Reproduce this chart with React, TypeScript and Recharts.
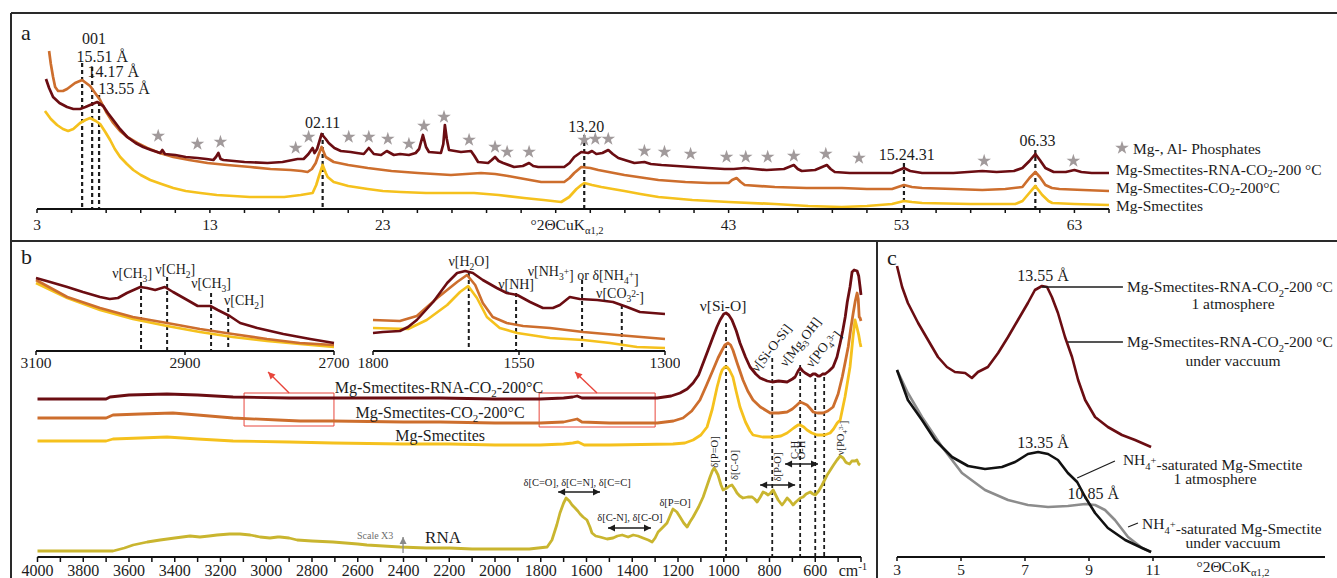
import React from 'react';
import {
  ComposedChart, Line, Scatter, XAxis, YAxis,
  ReferenceLine, ReferenceDot, ReferenceArea, Symbols,
} from 'recharts';

const SERIF = '"Liberation Serif", "Times New Roman", Times, serif';
const INK = '#1c1c1c';
const COL_RNA_CO2 = '#6b0d12';
const COL_CO2 = '#cd6e2d';
const COL_SMEC = '#f5c11d';
const COL_RNA = '#c9b52f';
const COL_STAR = '#a19a9b';
const COL_GRAY = '#8c8c8c';
const COL_BLACK = '#111111';
const COL_RED = '#e8463c';

type P = [number, number];
const pts = (a: P[]) => a.map(([x, y]) => ({ x, y }));

// ---------- Panel a : XRD (°2θ CuKα, intensity a.u.) ----------
const xrdA_RnaCo2: P[] = [
  [3.52,130],[3.7,121],[3.93,112],[4.3,106],[4.74,102],[5.1,100],[5.49,100],[5.8,102],[6.07,104],[6.48,107],[6.83,103],[7.1,96],[7.41,89],[7.8,80],[8.22,72],[8.7,66],[9.14,62],[9.6,59],[10.13,56],[10.25,59],[10.4,55],[11.0,54],[11.6,52],[12.28,51],[12.8,50],[13.2,49],[13.35,52],[13.49,56],[13.62,50],[13.78,49],[15.0,47],[16.33,46],[17.2,47],[18.07,50],[18.42,50],[18.7,55],[18.94,61],[19.05,56],[19.2,60],[19.46,75],[19.7,70],[19.87,66],[20.2,61],[20.57,58],[21.14,57],[21.5,56],[21.9,55],[22.19,61],[22.48,55],[22.9,54],[23.23,58],[23.64,54],[24.0,55],[24.51,54],[24.9,56],[25.1,60],[25.32,74],[25.5,62],[25.67,57],[26.36,56],[26.5,65],[26.59,84],[26.7,70],[26.83,59],[27.52,57],[28.1,58],[28.3,53],[28.51,47],[29.09,46],[29.3,49],[29.49,52],[29.7,48],[29.96,46],[30.59,42],[31.1,43],[31.46,46],[31.7,43],[31.99,42],[33.0,42],[33.49,42],[33.8,46],[34.07,52],[34.48,57],[34.88,56],[35.1,58],[35.35,55],[35.7,56],[36.04,59],[36.3,55],[36.62,51],[37.55,46],[38.13,47],[38.5,45],[39.12,44],[40.0,43],[40.86,42],[41.8,41],[42.77,40],[43.3,40],[43.93,41],[44.5,40],[45.2,39],[46.2,40],[46.77,44],[47.0,40],[47.23,38],[48.0,39],[48.68,44],[48.9,40],[49.14,37],[50.0,36],[50.54,36],[51.5,36],[52.45,36],[53.14,41],[53.5,38],[54.19,36],[56.0,36],[57.67,38],[58.5,37],[59.5,38],[59.99,41],[60.4,48],[60.74,55],[61.0,49],[61.32,41],[61.8,37],[62.5,37],[63.0,39],[63.4,37],[64.0,36],[65.0,36],
];
const xrdA_Co2: P[] = [
  [3.7,158],[3.8,145],[3.93,132],[4.05,122],[4.22,118],[4.5,118],[4.74,120],[5.2,126],[5.61,129],[6.07,123],[6.65,109],[7.0,97],[7.41,86],[7.8,78],[8.22,72],[8.8,66],[9.38,61],[10.1,56],[10.88,52],[11.8,49],[12.86,46],[14.0,44],[15.35,42],[16.5,40],[17.67,39],[18.3,38],[18.65,37],[18.9,40],[19.12,46],[19.3,55],[19.46,62],[19.7,52],[20.16,47],[21.0,44],[22.13,41],[23.5,38],[25.03,36],[26.94,34],[28.68,36],[29.5,35],[30.25,33],[31.2,30],[32.16,27],[33.49,27],[33.8,31],[34.07,36],[34.48,42],[35.0,41],[35.46,39],[36.97,34],[38.94,29],[40.5,27],[41.84,26],[43.0,26],[43.2,29],[43.46,31],[43.7,27],[43.93,24],[45.67,22],[47.5,21],[49.55,21],[51.0,20],[52.45,20],[53.14,24],[53.6,22],[54.19,21],[56.0,20],[57.67,19],[59.0,20],[59.99,22],[60.4,31],[60.74,37],[61.0,32],[61.32,24],[61.7,21],[62.13,20],[63.5,19],[65.0,18],
];
const xrdA_Smec: P[] = [
  [3.46,98],[3.8,90],[4.16,84],[4.5,80],[4.8,78],[5.1,80],[5.49,86],[5.8,89],[6.07,91],[6.4,88],[6.65,85],[6.95,77],[7.23,69],[7.5,60],[7.81,52],[8.2,45],[8.57,39],[9.0,34],[9.55,29],[10.2,25],[10.88,21],[11.6,18],[12.45,16],[13.4,14],[14.36,13],[15.3,12],[16.33,12],[17.3,12],[18.25,14],[18.94,16],[19.15,24],[19.29,32],[19.52,44],[19.7,36],[19.81,32],[20.16,27],[21.0,23],[22.13,20],[23.0,18],[24.04,17],[25.5,16],[26.94,16],[28.28,16],[29.7,14],[31.17,11],[32.3,9],[33.32,7],[33.78,12],[34.2,20],[34.48,24],[34.65,26],[35.1,24],[35.64,22],[36.3,20],[36.97,18],[37.9,15],[38.94,12],[40.9,9],[43.0,7],[45.67,5],[47.6,3],[49.55,2],[51.0,3],[52.45,5],[53.14,8],[53.6,7],[54.19,6],[57.0,5],[59.58,5],[60.0,8],[60.39,16],[60.74,23],[61.14,14],[61.5,8],[61.72,6],[63.0,5],[65.0,4],
];
const xrdA_Stars: P[] = [
  [10.01,73],[12.28,65],[13.61,67],[17.96,61],[18.71,72],[21.03,72],[22.19,72],[23.29,70],[24.51,65],[25.38,83],[26.54,92],[27.99,69],[29.49,62],[30.19,57],[31.46,57],[34.65,69],[35.29,70],[36.04,70],[38.13,58],[39.29,57],[40.8,55],[42.88,52],[43.99,52],[45.26,52],[46.77,53],[48.62,55],[50.54,51],[57.78,48],[62.94,48],
];
const xrdTicksA = [3,5,7,9,11,13,15,17,19,21,23,25,27,29,31,33,35,37,39,41,43,45,47,49,51,53,55,57,59,61,63,65];
const xrdLabelsA = [3,13,23,43,53,63];
const dashA: P[] = [[5.61,146],[6.19,142],[6.59,114],[19.52,76],[34.65,74],[53.14,46],[60.74,59]];

// ---------- Panel b : FTIR (cm-1, absorbance a.u.) ----------
const ftirRnaCo2: P[] = [
  [4000,158],[3700,158],[3683,160],[3600,162],[3434,163],[3300,162],[3145,160],[2900,159],[2708,159],[2400,159],[2240,159],[2000,158],[1803,158],[1700,159],[1660,160],[1641,161],[1620,159],[1584,159],[1450,159],[1291,159],[1230,161],[1191,164],[1160,168],[1134,174],[1110,182],[1090,194],[1070,206],[1047,220],[1030,230],[1016,237],[1000,243],[990,244],[978,242],[964,237],[945,226],[929,214],[905,200],[885,190],[860,183],[841,179],[810,176],[788,175],[760,176],[723,175],[700,178],[688,180],[675,186],[666,189],[655,186],[644,184],[622,181],[610,183],[600,183],[588,181],[579,181],[568,183],[557,183],[540,186],[522,190],[505,200],[491,214],[480,226],[469,240],[460,255],[448,270],[439,285],[430,287],[417,286],[410,281],[404,270],[400,262],
];
const ftirCo2: P[] = [
  [4000,139],[3700,139],[3670,142],[3550,143],[3408,144],[3300,142],[3145,139],[2950,137],[2852,136],[2708,136],[2400,135],[2240,135],[2000,134],[1803,134],[1700,135],[1660,137],[1641,138],[1620,135],[1500,134],[1291,134],[1220,136],[1178,139],[1140,146],[1104,157],[1075,172],[1047,187],[1025,199],[1007,207],[995,212],[981,214],[970,212],[960,207],[940,193],[916,177],[895,166],[872,157],[840,150],[797,144],[760,144],[723,145],[700,148],[680,152],[666,155],[655,154],[636,152],[620,148],[609,145],[590,144],[566,144],[545,146],[522,150],[500,163],[482,180],[468,196],[456,210],[445,228],[434,244],[425,256],[417,264],[412,258],[408,240],[404,239],[400,236],
];
const ftirSmec: P[] = [
  [4000,116],[3700,116],[3670,118],[3550,119],[3434,120],[3300,118],[3145,116],[2900,115],[2708,114],[2400,113],[2197,113],[2000,112],[1803,112],[1700,113],[1660,114],[1637,115],[1610,112],[1500,112],[1222,113],[1170,114],[1134,117],[1100,122],[1073,130],[1050,148],[1029,170],[1015,182],[1007,187],[995,190],[986,190],[975,187],[960,180],[945,165],[929,150],[905,135],[885,126],[872,122],[830,120],[784,120],[750,121],[723,124],[700,128],[688,130],[675,132],[666,132],[650,130],[636,127],[615,124],[592,122],[560,122],[535,124],[520,128],[504,134],[491,137],[470,160],[448,190],[435,220],[426,237],[418,230],[410,222],[404,214],[400,210],
];
const ftirRna: P[] = [
  [4000,6],[3800,6],[3670,6],[3620,9],[3582,12],[3520,15],[3464,17],[3400,19],[3333,21],[3290,20],[3250,21],[3215,22],[3160,23],[3115,23],[3070,22],[3027,20],[2984,19],[2950,20],[2940,20],[2900,19],[2865,17],[2800,16],[2708,15],[2600,13],[2560,12],[2415,10],[2300,9],[2197,9],[2100,8],[1947,8],[1850,8],[1772,10],[1751,17],[1730,32],[1716,44],[1700,54],[1689,59],[1675,56],[1663,52],[1650,49],[1638,46],[1628,43],[1615,40],[1598,37],[1585,30],[1576,24],[1560,21],[1541,20],[1510,18],[1484,19],[1465,21],[1444,22],[1418,20],[1396,22],[1375,21],[1353,19],[1330,17],[1313,15],[1300,19],[1287,25],[1265,30],[1248,34],[1235,41],[1222,48],[1205,45],[1191,40],[1175,34],[1160,30],[1148,35],[1134,40],[1110,50],[1090,60],[1075,70],[1060,80],[1050,86],[1042,89],[1034,86],[1025,82],[1012,72],[1003,67],[995,68],[986,69],[975,71],[964,72],[952,68],[942,64],[930,61],[916,59],[895,60],[876,60],[865,58],[854,55],[840,60],[828,65],[818,64],[806,62],[795,64],[784,67],[773,62],[762,57],[752,54],[745,52],[735,55],[723,59],[710,56],[697,52],[685,55],[675,57],[665,59],[653,60],[640,63],[622,65],[610,63],[600,62],[585,66],[570,72],[548,82],[520,92],[505,97],[491,101],[478,99],[467,95],[461,94],[450,93],[440,96],[426,96],[418,97],[410,93],[404,92],
];
const ftirTicks = [4000,3900,3800,3700,3600,3500,3400,3300,3200,3100,3000,2900,2800,2700,2600,2500,2400,2300,2200,2100,2000,1900,1800,1700,1600,1500,1400,1300,1200,1100,1000,900,800,700,600,500,400];
const ftirLabels = [4000,3800,3600,3400,3200,3000,2800,2600,2400,2200,2000,1800,1600,1400,1200,1000,800,600];
const dashB: P[] = [[990,234],[788,199],[666,192],[600,179],[561,180]];

// inset 1 : 3100-2700 cm-1
const chRnaCo2: P[] = [
  [3100,73],[3081,69],[3058,64],[3037,59],[3014,54],[3001,52],[2990,53],[2978,58],[2960,64],[2951,63],[2940,61],[2927,64],[2916,59],[2897,51],[2883,45],[2866,45],[2856,41],[2840,35],[2826,28],[2803,23],[2768,17],[2732,12],[2700,8],
];
const chCo2: P[] = [[3100,71],[3058,54],[3014,43],[2970,34],[2924,28],[2880,22],[2836,17],[2790,12],[2746,8],[2700,6]];
const chSmec: P[] = [[3100,68],[3058,53],[3014,41],[2970,32],[2924,25],[2880,19],[2836,14],[2790,10],[2746,7],[2700,4]];
const inset1Ticks = [3100, 2900, 2700];
const dashI1: P[] = [[2959,69],[2924,74],[2865,58],[2842,43]];

// inset 2 : 1800-1300 cm-1
const watRnaCo2: P[] = [
  [1800,18],[1783,19],[1754,20],[1740,24],[1725,31],[1697,49],[1673,68],[1656,78],[1642,80],[1629,78],[1612,71],[1588,63],[1571,58],[1553,56],[1531,49],[1509,43],[1492,43],[1480,46],[1463,54],[1446,52],[1416,51],[1389,49],[1365,44],[1343,39],[1300,37],
];
const watCo2: P[] = [[1800,31],[1754,30],[1725,35],[1690,53],[1656,69],[1639,76],[1625,66],[1612,48],[1595,34],[1571,28],[1543,25],[1497,23],[1440,19],[1382,16],[1300,12]];
const watSmec: P[] = [[1800,23],[1740,22],[1708,31],[1673,46],[1651,59],[1637,65],[1622,53],[1605,34],[1583,23],[1553,18],[1497,13],[1440,11],[1394,8],[1348,4],[1300,3]];
const inset2Ticks = [1800, 1550, 1300];
const dashI2: P[] = [[1636,78],[1555,58],[1442,71],[1374,46]];

// ---------- Panel c : XRD (°2θ CoKα) ----------
const xrdC_RnaCo2: P[] = [
  [3.0,291],[3.16,270],[3.34,254],[3.66,234],[3.97,217],[4.28,200],[4.56,190],[4.81,185],[5.13,184],[5.34,179],[5.53,185],[5.84,190],[6.16,204],[6.47,220],[6.78,237],[7.09,254],[7.31,267],[7.53,271],[7.69,270],[7.84,260],[8.03,244],[8.25,220],[8.47,200],[8.66,177],[8.88,157],[9.19,140],[9.59,130],[10.03,122],[10.44,117],[10.94,110],
];
const xrdC_NH4Atm: P[] = [
  [3.0,187],[3.34,157],[3.78,137],[4.19,117],[4.72,100],[5.22,91],[5.75,88],[6.28,90],[6.69,95],[7.09,103],[7.41,105],[7.72,103],[8.03,97],[8.34,84],[8.63,75],[8.88,60],[9.19,44],[9.59,29],[10.13,17],[10.66,9],[10.94,5],
];
const xrdC_NH4Vac: P[] = [
  [3.0,187],[3.34,164],[3.78,140],[4.41,110],[5.03,84],[5.75,67],[6.47,57],[7.09,52],[7.72,50],[8.34,51],[8.88,53],[9.19,52],[9.5,47],[9.81,37],[10.22,20],[10.66,9],[10.94,5],
];
const xrdTicksC = [3, 5, 7, 9, 11];

// ---------- helpers ----------
type TxtOpt = { size?: number; anchor?: 'start' | 'middle' | 'end'; rotate?: number; color?: string };
const txtShape = (content: React.ReactNode, o: TxtOpt = {}) => (p: any) => (
  <text
    x={p.cx} y={p.cy} dy="0.35em"
    textAnchor={o.anchor ?? 'middle'}
    fontSize={o.size ?? 15.5} fontFamily={SERIF} fill={o.color ?? INK}
    transform={o.rotate ? `rotate(${o.rotate} ${p.cx} ${p.cy})` : undefined}
  >{content}</text>
);
const Lbl = (key: string, x: number, y: number, content: React.ReactNode, o: TxtOpt = {}) => (
  <ReferenceDot key={key} x={x} y={y} r={0} ifOverflow="visible" shape={txtShape(content, o)} />
);
const sb = (s: string, rest: string, fs: number, k = 0.28) => (
  <><tspan dy={fs * k} fontSize={fs * 0.68}>{s}</tspan><tspan dy={-fs * k}>{rest}</tspan></>
);
const sp = (s: string, rest: string, fs: number) => (
  <><tspan dy={-fs * 0.38} fontSize={fs * 0.68}>{s}</tspan><tspan dy={fs * 0.38}>{rest}</tspan></>
);
const vDash = (key: string, x: number, top: number, w = 2.2) => (
  <ReferenceLine key={key} segment={[{ x, y: top }, { x, y: 0 }]} stroke={INK} strokeWidth={w} strokeDasharray="4 3" ifOverflow="visible" />
);
const head = (x: number, y: number, ang: number, L: number, W: number) => {
  const bx = x - L * Math.cos(ang), by = y - L * Math.sin(ang);
  const nx = -Math.sin(ang) * W, ny = Math.cos(ang) * W;
  return `${x},${y} ${bx + nx},${by + ny} ${bx - nx},${by - ny}`;
};
const arrowShape = (color: string, both: boolean, sw: number, L = 7, W = 3.5) => (p: any) => {
  const { x1, y1, x2, y2 } = p;
  const a = Math.atan2(y2 - y1, x2 - x1);
  return (
    <g>
      <line x1={x1} y1={y1} x2={x2} y2={y2} stroke={color} strokeWidth={sw} />
      <polygon points={head(x2, y2, a, L, W)} fill={color} />
      {both && <polygon points={head(x1, y1, a + Math.PI, L, W)} fill={color} />}
    </g>
  );
};
const Arrow = (key: string, a: P, b: P, color: string, both: boolean, sw = 1.6) => (
  <ReferenceLine key={key} segment={[{ x: a[0], y: a[1] }, { x: b[0], y: b[1] }]} ifOverflow="visible" shape={arrowShape(color, both, sw)} />
);
const Conn = (key: string, a: P, b: P) => (
  <ReferenceLine key={key} segment={[{ x: a[0], y: a[1] }, { x: b[0], y: b[1] }]} stroke={INK} strokeWidth={1.3} ifOverflow="visible" />
);
const makeTick = (labels: number[], fs: number, special?: (v: number, x: number, y: number) => React.ReactNode) => (p: any) => {
  const v = p.payload.value;
  if (special) {
    const s = special(v, p.x, p.y);
    if (s) return <g>{s}</g>;
  }
  if (!labels.includes(v)) return <g />;
  return <text x={p.x} y={p.y} dy="0.71em" textAnchor="middle" fontSize={fs} fontFamily={SERIF} fill={INK}>{v}</text>;
};
const axisLine = { stroke: '#111', strokeWidth: 2 };
const tickLine = { stroke: '#111', strokeWidth: 1.5 };
const starShape = (p: any) => <Symbols cx={p.cx} cy={p.cy} type="star" size={58} fill={COL_STAR} />;
const line = (key: string, data: P[], color: string, w = 2.7) => (
  <Line key={key} data={pts(data)} dataKey="y" type="linear" stroke={color} strokeWidth={w} dot={false} activeDot={false} isAnimationActive={false} strokeLinejoin="round" />
);

// ---------- panels ----------
function PanelA() {
  return (
    <ComposedChart width={1337} height={241} margin={{ top: 13, right: 228, bottom: 0, left: 37 }}>
      <XAxis type="number" dataKey="x" domain={[3, 65]} ticks={xrdTicksA} interval={0} height={32}
        axisLine={axisLine} tickLine={tickLine} tickSize={4} tickMargin={6} tick={makeTick(xrdLabelsA, 15.5)} />
      <YAxis hide type="number" dataKey="y" domain={[0, 196]} />
      {dashA.map(([x, t], i) => vDash('da' + i, x, t))}
      {line('a1', xrdA_Smec, COL_SMEC)}
      {line('a2', xrdA_Co2, COL_CO2)}
      {line('a3', xrdA_RnaCo2, COL_RNA_CO2)}
      <Scatter data={pts(xrdA_Stars)} dataKey="y" shape={starShape} isAnimationActive={false} />
      {Lbl('l001', 6.3, 171, '001', { size: 16 })}
      {Lbl('l1551', 6.77, 153, '15.51 Å', { size: 16 })}
      {Lbl('l1417', 7.41, 138, '14.17 Å', { size: 16 })}
      {Lbl('l1355', 8.04, 121, '13.55 Å', { size: 16 })}
      {Lbl('l0211', 19.52, 87, '02.11', { size: 16 })}
      {Lbl('l1320', 34.77, 83, '13.20', { size: 16 })}
      {Lbl('l152431', 53.3, 55, '15.24.31', { size: 16 })}
      {Lbl('l0633', 60.86, 69, '06.33', { size: 16 })}
    </ComposedChart>
  );
}

function PanelBMain() {
  const tick = makeTick(ftirLabels, 16, (v, x, y) => v === 400 ? (
    <text x={x - 8} y={y} dy="0.71em" textAnchor="middle" fontSize={16} fontFamily={SERIF} fill={INK}>cm{sp('-1', '', 16)}</text>
  ) : null);
  const f = 10.5;
  const L = 16;
  return (
    <ComposedChart width={877} height={337} margin={{ top: 0, right: 16, bottom: 0, left: 37.5 }}>
      <XAxis type="number" dataKey="x" domain={[400, 4000]} reversed ticks={ftirTicks} interval={0} height={21}
        axisLine={axisLine} tickLine={tickLine} tickSize={5} tickMargin={3} tick={tick} />
      <YAxis hide type="number" dataKey="y" domain={[0, 316]} />
      {dashB.map(([x, t], i) => vDash('db' + i, x, t, 1.8))}
      {line('b4', ftirRna, COL_RNA, 2.8)}
      {line('b3', ftirSmec, COL_SMEC, 2.8)}
      {line('b2', ftirCo2, COL_CO2, 2.8)}
      {line('b1', ftirRnaCo2, COL_RNA_CO2, 2.8)}
      <ReferenceArea x1={3097} x2={2704} y1={131} y2={164} fill="none" stroke={COL_RED} strokeWidth={1} ifOverflow="visible" />
      <ReferenceArea x1={1807} x2={1300} y1={130} y2={164} fill="none" stroke={COL_RED} strokeWidth={1} ifOverflow="visible" />
      {Arrow('ar1', [2900, 164], [2992, 185], COL_RED, false, 1.4)}
      {Arrow('ar2', [1554, 164], [1650, 185], COL_RED, false, 1.4)}
      {Lbl('t1', 2245, 170, <>Mg-Smectites-RNA-CO{sb('2', '-200°C', L)}</>, { size: L })}
      {Lbl('t2', 2240, 145, <>Mg-Smectites-CO{sb('2', '-200°C', L)}</>, { size: L })}
      {Lbl('t3', 2240, 122, 'Mg-Smectites', { size: L })}
      {Lbl('t4', 2227, 20, 'RNA', { size: 17 })}
      {Lbl('t5', 2524, 22, 'Scale X3', { size: 10, color: '#6e6e6e' })}
      {Arrow('ar3', [2402, 4], [2402, 20], '#8a8a8a', false, 1.3)}
      {Lbl('t6', 1003, 251, <>ν[Si-O]</>, { size: 15.5 })}
      {Lbl('t7', 793, 209, <>ν[Si-O-Si]</>, { size: 13.5, rotate: -52 })}
      {Lbl('t8', 666, 215, <>ν[Mg{sb('3', 'OH]', 13.5)}</>, { size: 13.5, rotate: -52 })}
      {Lbl('t9', 570, 209, <>ν[PO{sb('4', '', 13.5)}{sp('3-', ']', 13.5)}</>, { size: 13.5, rotate: -52 })}
      {Lbl('r1', 1641, 75, 'δ[C=O], δ[C=N], δ[C=C]', { size: f })}
      {Arrow('r1a', [1724, 65], [1541, 65], INK, true, 1.6)}
      {Lbl('r2', 1410, 40, 'δ[C-N], δ[C-O]', { size: f })}
      {Arrow('r2a', [1506, 29], [1318, 29], INK, true, 1.6)}
      {Lbl('r3', 1213, 55, 'δ[P=O]', { size: f })}
      {Lbl('r4', 1042, 105, 'δ[P=O]', { size: f, rotate: -90 })}
      {Lbl('r5', 955, 92, 'δ[C-O]', { size: f, rotate: -90 })}
      {Lbl('r6', 767, 90, 'δ[P-O]', { size: f, rotate: -90 })}
      {Arrow('r6a', [841, 72], [688, 72], INK, true, 1.6)}
      {Lbl('r7a', 690, 107, 'C-H', { size: f, rotate: -90 })}
      {Lbl('r7b', 660, 107, 'O-H', { size: f, rotate: -90 })}
      {Arrow('r7c', [732, 93], [588, 93], INK, true, 1.6)}
      {Lbl('r8', 492, 119, <>ν[PO{sb('4', '', f)}{sp('3-', ']', f)}</>, { size: f, rotate: -90 })}
    </ComposedChart>
  );
}

function Inset1() {
  return (
    <ComposedChart width={350} height={130} margin={{ top: 0, right: 16, bottom: 0, left: 36 }}>
      <XAxis type="number" dataKey="x" domain={[2700, 3100]} reversed ticks={inset1Ticks} interval={0} height={20}
        axisLine={axisLine} tickLine={tickLine} tickSize={4} tickMargin={2} tick={makeTick(inset1Ticks, 15.5)} />
      <YAxis hide type="number" dataKey="y" domain={[0, 110]} />
      {dashI1.map(([x, t], i) => vDash('di1' + i, x, t, 2))}
      {line('i13', chSmec, COL_SMEC, 2.6)}
      {line('i12', chCo2, COL_CO2, 2.6)}
      {line('i11', chRnaCo2, COL_RNA_CO2, 2.6)}
      {Lbl('c1', 2971, 78, <>ν[CH{sb('3', ']', 14)}</>, { size: 14 })}
      {Lbl('c2', 2913, 82, <>ν[CH{sb('2', ']', 14)}</>, { size: 14 })}
      {Lbl('c3', 2865, 68, <>ν[CH{sb('3', ']', 14)}</>, { size: 14 })}
      {Lbl('c4', 2821, 51, <>ν[CH{sb('2', ']', 14)}</>, { size: 14 })}
    </ComposedChart>
  );
}

function Inset2() {
  const fs = 14;
  return (
    <ComposedChart width={340} height={130} margin={{ top: 0, right: 15, bottom: 0, left: 33 }}>
      <XAxis type="number" dataKey="x" domain={[1300, 1800]} reversed ticks={inset2Ticks} interval={0} height={20}
        axisLine={axisLine} tickLine={tickLine} tickSize={4} tickMargin={2} tick={makeTick(inset2Ticks, 15.5)} />
      <YAxis hide type="number" dataKey="y" domain={[0, 110]} />
      {dashI2.map(([x, t], i) => vDash('di2' + i, x, t, 2))}
      {line('i23', watSmec, COL_SMEC, 2.6)}
      {line('i22', watCo2, COL_CO2, 2.6)}
      {line('i21', watRnaCo2, COL_RNA_CO2, 2.6)}
      {Lbl('w1', 1636, 90, <>ν[H{sb('2', 'O]', fs)}</>, { size: fs })}
      {Lbl('w2', 1555, 67, 'ν[NH]', { size: fs })}
      {Lbl('w3', 1440, 80, <>ν[NH{sb('3', '', fs)}{sp('+', '] or δ[NH', fs)}{sb('4', '', fs)}{sp('+', ']', fs)}</>, { size: fs })}
      {Lbl('w4', 1377, 58, <>ν[CO{sb('3', '', fs)}{sp('2-', ']', fs)}</>, { size: fs })}
    </ComposedChart>
  );
}

function PanelC() {
  const fs = 15.5;
  return (
    <ComposedChart width={459} height={337} margin={{ top: 0, right: 12, bottom: 0, left: 19 }}>
      <XAxis type="number" dataKey="x" domain={[3, 16.375]} ticks={xrdTicksC} interval={0} height={21}
        axisLine={axisLine} tickLine={tickLine} tickSize={4} tickMargin={3} tick={makeTick(xrdTicksC, 15.5)} />
      <YAxis hide type="number" dataKey="y" domain={[0, 316]} />
      {line('c3', xrdC_NH4Vac, COL_GRAY, 2.6)}
      {line('c2', xrdC_NH4Atm, COL_BLACK, 2.6)}
      {line('c1', xrdC_RnaCo2, COL_RNA_CO2, 2.6)}
      {Lbl('k1', 7.56, 282, '13.55 Å', { size: 16 })}
      {Conn('k1c', [7.53, 270], [10.06, 270])}
      {Lbl('k1t', 10.19, 270, <>Mg-Smectites-RNA-CO{sb('2', '-200 °C', fs)}</>, { anchor: 'start', size: fs })}
      {Lbl('k1u', 13.5, 253, '1 atmosphere', { size: fs })}
      {Conn('k2c', [8.34, 215], [10.06, 215])}
      {Lbl('k2t', 10.19, 215, <>Mg-Smectites-RNA-CO{sb('2', '-200 °C', fs)}</>, { anchor: 'start', size: fs })}
      {Lbl('k2u', 13.5, 196, 'under vaccuum', { size: fs })}
      {Lbl('k3', 7.56, 115, '13.35 Å', { size: 16 })}
      {Conn('k3c', [8.63, 79], [9.81, 96])}
      {Lbl('k3t', 10.06, 97, <>NH{sb('4', '', fs)}{sp('+', '-saturated Mg-Smectite', fs)}</>, { anchor: 'start', size: fs })}
      {Lbl('k3u', 12.94, 78, '1 atmosphere', { size: fs })}
      {Lbl('k4', 9.13, 64, '10.85 Å', { size: 16 })}
      {Conn('k4c', [10.22, 30], [10.53, 34])}
      {Lbl('k4t', 10.66, 33, <>NH{sb('4', '', fs)}{sp('+', '-saturated Mg-Smectite', fs)}</>, { anchor: 'start', size: fs })}
      {Lbl('k4u', 13.5, 14, 'under vaccuum', { size: fs })}
    </ComposedChart>
  );
}

function Overlay() {
  const fs = 15.5;
  return (
    <svg width={1337} height={578} style={{ position: 'absolute', left: 0, top: 0, pointerEvents: 'none' }}>
      <g stroke="#2a2a2a" strokeWidth={2}>
        <line x1={11} y1={13} x2={1337} y2={13} />
        <line x1={11} y1={13} x2={11} y2={578} />
        <line x1={11} y1={241} x2={1337} y2={241} />
        <line x1={877} y1={241} x2={877} y2={578} />
      </g>
      <g fontFamily={SERIF} fill={INK}>
        <text x={21} y={40} fontSize={22}>a</text>
        <text x={21} y={264} fontSize={22}>b</text>
        <text x={887} y={265} fontSize={22}>c</text>
        <Symbols cx={1122} cy={148} type="star" size={58} fill={COL_STAR} />
        <text x={1133} y={154} fontSize={fs}>Mg-, Al- Phosphates</text>
        <text x={1116} y={175} fontSize={fs}>Mg-Smectites-RNA-CO{sb('2', '-200 °C', fs, 0.16)}</text>
        <text x={1116} y={193} fontSize={fs}>Mg-Smectites-CO{sb('2', '-200°C', fs, 0.16)}</text>
        <text x={1116} y={211} fontSize={fs}>Mg-Smectites</text>
        <text x={567} y={230} fontSize={15.5} textAnchor="middle">°2ΘCuK{sb('α1,2', '', 15.5)}</text>
        <text x={1233} y={572} fontSize={15.5} textAnchor="middle">°2ΘCoK{sb('α1,2', '', 15.5)}</text>
      </g>
    </svg>
  );
}

export default function App() {
  return (
    <div style={{ position: 'absolute', left: 0, top: 0, width: 1337, height: 578, overflow: 'hidden', background: '#fff', fontFamily: SERIF }}>
      <div style={{ position: 'absolute', left: 0, top: 0 }}><PanelA /></div>
      <div style={{ position: 'absolute', left: 0, top: 241 }}><PanelBMain /></div>
      <div style={{ position: 'absolute', left: 0, top: 241 }}><Inset1 /></div>
      <div style={{ position: 'absolute', left: 340, top: 241 }}><Inset2 /></div>
      <div style={{ position: 'absolute', left: 878, top: 241 }}><PanelC /></div>
      <Overlay />
    </div>
  );
}
